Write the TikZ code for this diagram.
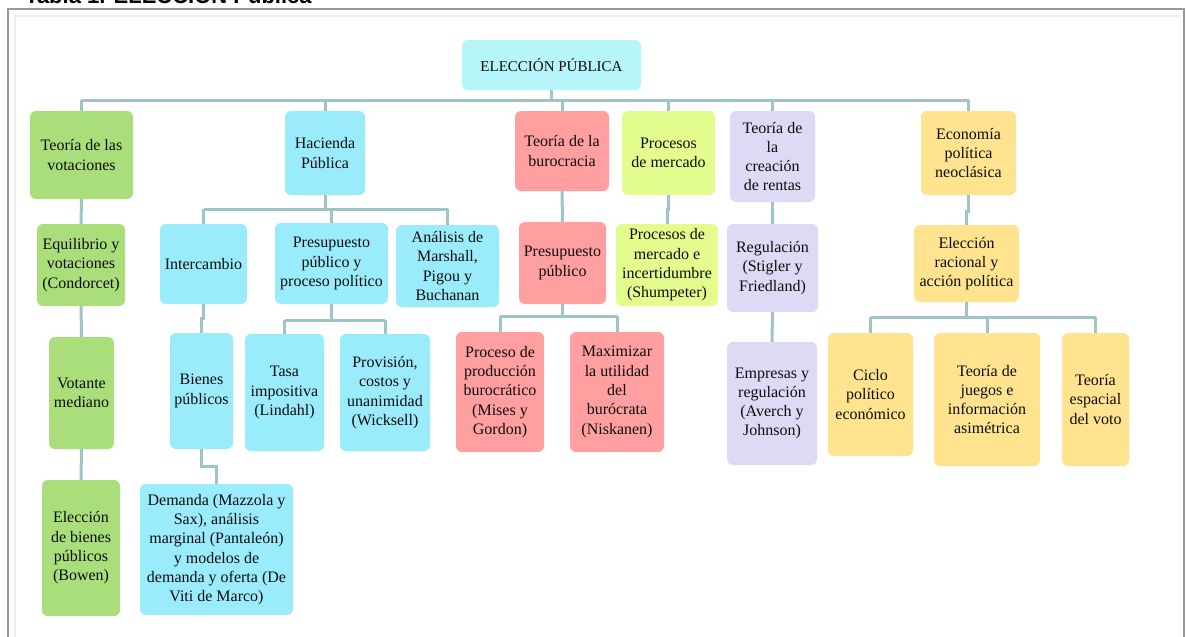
\documentclass[tikz,border=0pt]{standalone}
\usepackage{fontspec}
\setmainfont{Liberation Serif}
\newfontfamily\titlefont{Liberation Sans}
\definecolor{cgreen}{HTML}{A9DE7A}
\definecolor{ccyan}{HTML}{9AEBFC}
\definecolor{croot}{HTML}{B6F6FA}
\definecolor{cred}{HTML}{FF9F9F}
\definecolor{clime}{HTML}{E2FD8D}
\definecolor{clav}{HTML}{DCDAF4}
\definecolor{cyel}{HTML}{FFE38F}
\definecolor{cconn}{HTML}{9FC4C8}
\definecolor{cframe}{HTML}{9A9A9A}
\definecolor{cinner}{HTML}{EDEDED}
\begin{document}
\begin{tikzpicture}[x=1pt,y=-1pt,
  box/.style={rounded corners=6pt, draw=none, align=center, inner sep=0pt,
    font=\fontsize{16}{19.3}\selectfont, text=black!95},
  conn/.style={draw=cconn, line width=3pt}]
\useasboundingbox (0,0) rectangle (1187,637);
% frame
\fill[white] (0,0) rectangle (1187,637);
\node[anchor=base west, inner sep=0pt, font=\titlefont\bfseries\fontsize{22}{22}\selectfont] (title) at (25,3) {Tabla 1. ELECCIÓN Pública};
\draw[cinner, line width=2pt] (15,660) -- (15,16) -- (1180,16);
\draw[cframe, line width=2pt] (8,660) -- (8,9) -- (1184,9) -- (1184,660);

% nodes
\node[box, fill=croot, minimum width=179pt, minimum height=50pt, font=\fontsize{15}{18}\selectfont] (root) at (551.5,65) {ELECCIÓN PÚBLICA};

\node[box, fill=cgreen, minimum width=103pt, minimum height=88pt] (vot) at (81.5,155) {Teoría de las\\votaciones};
\node[box, fill=ccyan, minimum width=80pt, minimum height=84pt] (hac) at (325,153) {Hacienda\\Pública};
\node[box, fill=cred, minimum width=94pt, minimum height=80pt] (bur) at (562,151) {Teoría de la\\burocracia};
\node[box, fill=clime, minimum width=93pt, minimum height=84pt] (mer) at (668.5,153) {Procesos\\de mercado};
\node[box, fill=clav, minimum width=85pt, minimum height=91pt] (ren) at (772.5,156.5) {Teoría de\\la\\creación\\de rentas};
\node[box, fill=cyel, minimum width=95pt, minimum height=84pt] (eco) at (968.5,153) {Economía\\política\\neoclásica};

\node[box, fill=cgreen, minimum width=88pt, minimum height=82pt] (equ) at (81,265) {Equilibrio y\\votaciones\\(Condorcet)};
\node[box, fill=ccyan, minimum width=87pt, minimum height=80pt] (int) at (203.5,264) {Intercambio};
\node[box, fill=ccyan, minimum width=113pt, minimum height=81pt] (pre) at (331.5,263.5) {Presupuesto\\público y\\proceso político};
\node[box, fill=ccyan, minimum width=103pt, minimum height=82pt] (ana) at (447.5,266) {Análisis de\\Marshall,\\Pigou y\\Buchanan};
\node[box, fill=cred, minimum width=87pt, minimum height=82pt] (pp) at (562.5,263) {Presupuesto\\público};
\node[box, fill=clime, minimum width=102pt, minimum height=82pt] (pmi) at (667,265) {Procesos de\\mercado e\\incertidumbre\\(Shumpeter)};
\node[box, fill=clav, minimum width=91pt, minimum height=88pt] (reg) at (772.5,268) {Regulación\\(Stigler y\\Friedland)};
\node[box, fill=cyel, minimum width=105pt, minimum height=77pt] (era) at (966.5,263.5) {Elección\\racional y\\acción política};

\node[box, fill=cgreen, minimum width=65pt, minimum height=112pt] (vm) at (81.5,393) {Votante\\mediano};
\node[box, fill=ccyan, minimum width=63pt, minimum height=116pt] (bp) at (201.5,391) {Bienes\\públicos};
\node[box, fill=ccyan, minimum width=79pt, minimum height=117pt] (tasa) at (284.5,392.5) {Tasa\\impositiva\\(Lindahl)};
\node[box, fill=ccyan, minimum width=90pt, minimum height=117pt] (prov) at (385,392.5) {Provisión,\\costos y\\unanimidad\\(Wicksell)};
\node[box, fill=cred, minimum width=88pt, minimum height=120pt] (ppb) at (500,392) {Proceso de\\producción\\burocrático\\(Mises y\\Gordon)};
\node[box, fill=cred, minimum width=94pt, minimum height=120pt] (max) at (617,392) {Maximizar\\la utilidad\\del\\burócrata\\(Niskanen)};
\node[box, fill=clav, minimum width=90pt, minimum height=123pt] (emp) at (772,403.5) {Empresas y\\regulación\\(Averch y\\Johnson)};
\node[box, fill=cyel, minimum width=85pt, minimum height=123pt] (cic) at (870.5,394.5) {Ciclo\\político\\económico};
\node[box, fill=cyel, minimum width=106pt, minimum height=133pt] (jue) at (987,399.5) {Teoría de\\juegos e\\información\\asimétrica};
\node[box, fill=cyel, minimum width=67pt, minimum height=133pt] (esp) at (1095.5,399.5) {Teoría\\espacial\\del voto};

\node[box, fill=cgreen, minimum width=78pt, minimum height=136pt] (ebp) at (81,548) {Elección\\de bienes\\públicos\\(Bowen)};
\node[box, fill=ccyan, minimum width=153pt, minimum height=131pt] (dem) at (216.5,549.5) {Demanda (Mazzola y\\Sax), análisis\\marginal (Pantaleón)\\y modelos de\\demanda y oferta (De\\Viti de Marco)};

% bus coordinates
\coordinate (b0) at (552,100);
\coordinate (b1) at (325,209);
\coordinate (b2) at (331,320);
\coordinate (b3) at (562,316);
\coordinate (b4) at (967,317);

% root connectors
\draw[conn] (root.south) -- (root.south |- b0);
\draw[conn] (vot.north |- b0) -- (eco.north |- b0);
\foreach \n in {vot,hac,bur,mer,ren,eco} \draw[conn] (\n.north |- b0) -- (\n.north);

% hacienda
\draw[conn] (hac.south) -- (hac.south |- b1);
\draw[conn] (int.north |- b1) -- (ana.north |- b1);
\foreach \n in {int,pre,ana} \draw[conn] (\n.north |- b1) -- (\n.north);

% presupuesto y proceso
\draw[conn] (pre.south) -- (pre.south |- b2);
\draw[conn] (tasa.north |- b2) -- (prov.north |- b2);
\foreach \n in {tasa,prov} \draw[conn] (\n.north |- b2) -- (\n.north);

% presupuesto publico
\draw[conn] (pp.south) -- (pp.south |- b3);
\draw[conn] (ppb.north |- b3) -- (max.north |- b3);
\foreach \n in {ppb,max} \draw[conn] (\n.north |- b3) -- (\n.north);

% eleccion racional
\draw[conn] (era.south) -- (era.south |- b4);
\draw[conn] (cic.north |- b4) -- (esp.north |- b4);
\foreach \n in {cic,jue,esp} \draw[conn] (\n.north |- b4) -- (\n.north);

% single links
\draw[conn] (vot.south) -- (equ.north);
\draw[conn] (equ.south) -- (vm.north);
\draw[conn] (vm.south) -- (ebp.north);
\draw[conn] (int.south) -- ++(0,14) -| (bp.north);
\draw[conn] (bp.south) -- ++(0,17) -| (dem.north);
\draw[conn] (bur.south) -- (pp.north);
\draw[conn] (mer.south) -- ++(0,14) -| (pmi.north);
\draw[conn] (ren.south) -- (reg.north);
\draw[conn] (reg.south) -- (emp.north);
\draw[conn] (eco.south) -- ++(0,16) -| (era.north);
\end{tikzpicture}
\end{document}
